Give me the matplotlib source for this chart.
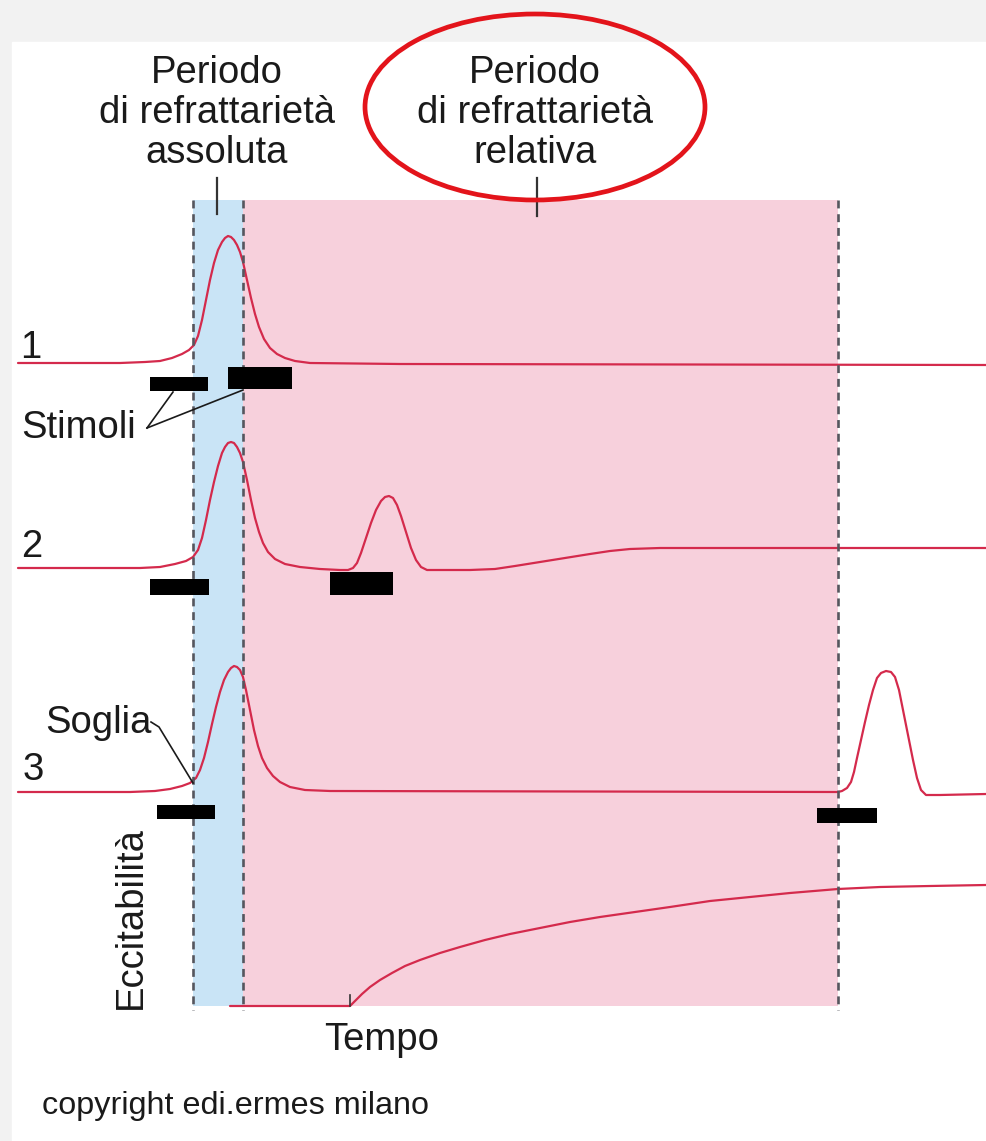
import matplotlib
matplotlib.use('Agg')
import matplotlib.pyplot as plt
from matplotlib.patches import Rectangle, Ellipse

plt.rcParams['font.family'] = ['Liberation Sans', 'DejaVu Sans']

# traces (x, y) in drawing units, y grows downwards
trace1_x = [18, 120, 145, 160, 172, 182, 189, 194, 198, 202, 206, 210, 214, 218, 222, 225, 228, 231, 234, 237,
            240, 243, 247, 251, 255, 259, 264, 270, 277, 285, 295, 310, 400, 986]
trace1_y = [363, 363, 362, 361, 358, 354, 350, 345, 336, 320, 300, 280, 263, 250, 242, 238, 236, 237, 240, 245,
            252, 262, 280, 298, 314, 327, 339, 348, 354, 358, 361, 363, 364, 365]

trace2_x = [18, 140, 160, 175, 186, 193, 198, 202, 206, 210, 214, 218, 222, 225, 228, 231, 234, 237, 240, 243,
            247, 251, 255, 259, 263, 268, 275, 285, 300, 320, 340,
            348, 353, 357, 361, 366, 371, 376, 381, 385, 389, 393, 397, 401, 406, 411, 416, 421, 427,
            440, 470, 495, 515, 540, 565, 590, 610, 630, 660, 986]
trace2_y = [568, 568, 567, 564, 561, 557, 550, 538, 520, 500, 482, 466, 453, 447, 443, 442, 443, 447, 453, 462,
            480, 500, 518, 532, 543, 552, 559, 564, 567, 569, 570,
            570, 568, 563, 553, 538, 523, 510, 501, 497, 496, 498, 505, 516, 532, 548, 560, 567, 570,
            570, 570, 569, 566, 562, 558, 554, 551, 549, 548, 548]

trace3_x = [18, 130, 155, 170, 182, 190, 196, 200, 204, 208, 212, 216, 220, 224, 228, 231, 234, 237, 240, 243,
            246, 250, 254, 258, 262, 267, 273, 280, 290, 305, 330, 838,
            842, 847, 851, 854, 857, 861, 865, 869, 873, 877, 881, 886, 891, 895, 899, 903, 908, 913, 917,
            921, 926, 940, 986]
trace3_y = [792, 792, 791, 789, 786, 783, 778, 770, 758, 742, 724, 707, 692, 680, 672, 668, 666, 667, 670, 677,
            690, 710, 730, 746, 758, 768, 776, 782, 787, 790, 791, 792,
            791, 788, 782, 772, 758, 740, 722, 705, 690, 678, 673, 671, 672, 677, 690, 710, 735, 760, 778,
            790, 795, 795, 794]

excit_x = [230, 350, 355, 362, 370, 380, 392, 405, 420, 440, 460, 485, 510, 540, 570, 600, 635, 670, 710, 750,
           790, 838, 880, 930, 986]
excit_y = [1006, 1006, 1001, 994, 987, 980, 973, 966, 960, 953, 947, 940, 934, 928, 922, 917, 912, 907, 901, 897,
           893, 889, 887, 886, 885]

# stimulus bars: x0, x1, y_top, y_bottom
stim_x0 = [150, 228, 150, 330, 157, 817]
stim_x1 = [208, 292, 209, 393, 215, 877]
stim_top = [377, 367, 579, 572, 805, 808]
stim_bot = [391, 389, 595, 595, 819, 823]

# refractory periods
abs_start, abs_end, rel_end = 193, 243, 838
band_top, band_bottom = 200, 1006

header_lines = ['Periodo', 'di refrattarietà']
header_abs = 'assoluta'
header_rel = 'relativa'

TRACE = '#d42a4c'
DASH = '#55565e'
INK = '#1a1a1a'


def draw(ax):
    ax.add_patch(Rectangle((12, 42), 974, 1099, color='white', zorder=0))
    ax.add_patch(Rectangle((abs_start, band_top), abs_end - abs_start, band_bottom - band_top,
                           color='#c9e4f6', lw=0, zorder=1))
    ax.add_patch(Rectangle((abs_end, band_top), rel_end - abs_end, band_bottom - band_top,
                           color='#f7d0dc', lw=0, zorder=1))
    for x in (abs_start, abs_end, rel_end):
        ax.plot([x, x], [band_top, band_bottom + 4], color=DASH, lw=1.9,
                linestyle=(0, (3.0, 2.2)), zorder=4)

    for xs, ys in ((trace1_x, trace1_y), (trace2_x, trace2_y), (trace3_x, trace3_y), (excit_x, excit_y)):
        ax.plot(xs, ys, color=TRACE, lw=1.6, solid_joinstyle='round', solid_capstyle='round', zorder=3)

    for x0, x1, t, b in zip(stim_x0, stim_x1, stim_top, stim_bot):
        ax.add_patch(Rectangle((x0, t), x1 - x0, b - t, color='black', lw=0, zorder=5))

    # ticks under the headers and on the time axis
    ax.plot([217, 217], [178, 214], color='#333333', lw=1.6, zorder=4)
    ax.plot([537, 537], [178, 216], color='#333333', lw=1.6, zorder=4)
    ax.plot([350, 350], [995, 1006], color='#333333', lw=1.2, zorder=4)

    fs = 27.5
    for cx, last in ((217, header_abs), (535, header_rel)):
        for y, s in zip((83, 123, 163), header_lines + [last]):
            ax.text(cx, y, s, fontsize=27.5, ha='center', va='baseline', color=INK)

    ax.text(31, 358, '1', fontsize=fs, ha='center', va='baseline', color=INK)
    ax.text(32, 557, '2', fontsize=fs, ha='center', va='baseline', color=INK)
    ax.text(33, 780, '3', fontsize=fs, ha='center', va='baseline', color=INK)

    ax.text(21, 438, 'Stimoli', fontsize=fs, ha='left', va='baseline', color=INK)
    ax.plot([147, 173], [428, 392], color=INK, lw=1.2, zorder=6)
    ax.plot([147, 243], [428, 390], color=INK, lw=1.2, zorder=6)

    ax.text(45, 733, 'Soglia', fontsize=fs, ha='left', va='baseline', color=INK)
    ax.plot([151, 159, 193], [722, 727, 783], color=INK, lw=1.2, zorder=6)

    ax.text(131, 918, 'Eccitabilità', fontsize=fs, rotation=90, ha='center', va='center', color=INK)
    ax.text(382, 1050, 'Tempo', fontsize=fs, ha='center', va='baseline', color=INK)
    ax.text(42, 1114, 'copyright edi.ermes milano', fontsize=23.3, ha='left', va='baseline', color=INK)

    ax.add_patch(Ellipse((535, 107), 340, 186, fill=False, edgecolor='#e3141b', lw=3.4, zorder=7))


if __name__ == '__main__':
    fig = plt.figure(figsize=(9.86, 11.41), dpi=100, facecolor='#f2f2f2')
    ax = fig.add_axes([0, 0, 1, 1])
    ax.set_xlim(0, 986)
    ax.set_ylim(1141, 0)
    ax.axis('off')
    draw(ax)
    fig.savefig('out.png', dpi=100, facecolor=fig.get_facecolor())
